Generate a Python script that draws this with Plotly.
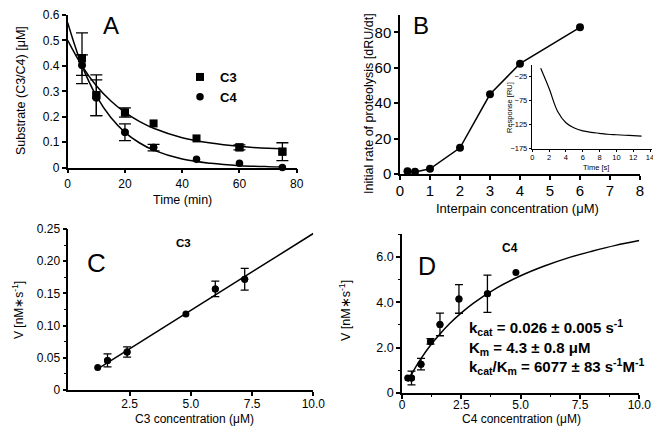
import plotly.graph_objects as go

# The page body keeps a default 8px margin, so the figure is placed 8px in.
OFF = 8
W, H = 661 - OFF, 433 - OFF
FONT = "Arial, Liberation Sans, Helvetica, sans-serif"

# ---------------- Panel A data ----------------
a_time = [5, 10, 20, 30, 45, 60, 75]
a_c3 = [0.43, 0.285, 0.217, 0.174, 0.115, 0.080, 0.063]
a_c3_err = [0.10, 0.08, 0.018, None, None, 0.010, 0.035]
a_c4 = [0.403, 0.275, 0.139, 0.079, 0.033, 0.017, 0.001]
a_c4_err = [0.04, 0.07, 0.033, 0.013, None, None, None]
# fitted curves
a_fit_t = [0, 5, 10, 15, 20, 25, 30, 40, 50, 60, 70, 75]
a_fit_c3 = [0.500, 0.400, 0.322, 0.263, 0.217, 0.182, 0.155, 0.118, 0.097, 0.084, 0.076, 0.074]
a_fit_c4 = [0.570, 0.401, 0.282, 0.198, 0.139, 0.098, 0.069, 0.034, 0.017, 0.008, 0.004, 0.003]

# ---------------- Panel B data ----------------
b_conc = [0.25, 0.5, 1, 2, 3, 4, 6]
b_rate = [1.5, 1.2, 2.9, 14.8, 45.0, 62.3, 82.8]
# inset trace
inset_t = [1, 2, 3, 4, 5, 6, 7, 8, 9, 10, 11, 12, 13]
inset_r = [-8, -50, -97, -121, -132, -138, -141, -143, -145, -146, -147, -148, -149]

# ---------------- Panel C data ----------------
c_conc = [1.2, 1.6, 2.4, 4.8, 6.0, 7.2]
c_v = [0.035, 0.046, 0.059, 0.118, 0.157, 0.172]
c_err = [None, 0.010, 0.008, None, 0.012, 0.017]
c_fit_x = [1.33, 10.0]
c_fit_y = [0.036, 0.243]

# ---------------- Panel D data ----------------
d_conc = [0.24, 0.4, 0.8, 1.2, 1.6, 2.4, 3.6, 4.8]
d_v = [0.66, 0.66, 1.27, 2.27, 3.02, 4.14, 4.37, 5.31]
d_err = [None, 0.30, 0.25, 0.12, 0.50, 0.63, 0.82, None]
d_fit_x = [0.25, 0.4, 0.8, 1.2, 1.6, 2.0, 2.5, 3, 4, 5, 6, 7, 8, 9, 10]
d_fit_y = [0.50, 0.82, 1.51, 2.10, 2.60, 3.05, 3.53, 3.95, 4.63, 5.16, 5.59, 5.95, 6.24, 6.50, 6.71]


def px(x, y):
    return (x - OFF) / W, 1 - (y - OFF) / H


def dom_x(a, b):
    return [(a - OFF) / W, (b - OFF) / W]


def dom_y(bottom, top):
    return [1 - (bottom - OFF) / H, 1 - (top - OFF) / H]


def sub_err(xs, ys, errs):
    xx = [x for x, e in zip(xs, errs) if e is not None]
    yy = [y for y, e in zip(ys, errs) if e is not None]
    ee = [e for e in errs if e is not None]
    return xx, yy, ee


fig = go.Figure()
LW = 1.5

# ---- A ----
fig.add_trace(go.Scatter(x=a_fit_t, y=a_fit_c3, mode="lines", line=dict(color="black", width=LW, shape="spline"),
                         xaxis="x", yaxis="y", showlegend=False))
fig.add_trace(go.Scatter(x=a_fit_t, y=a_fit_c4, mode="lines", line=dict(color="black", width=LW, shape="spline"),
                         xaxis="x", yaxis="y", showlegend=False))
for ys, errs, sym, size, name in [(a_c3, a_c3_err, "square", 8, "<b>C3</b>"), (a_c4, a_c4_err, "circle", 7.5, "<b>C4</b>")]:
    xx, yy, ee = sub_err(a_time, ys, errs)
    fig.add_trace(go.Scatter(x=xx, y=yy, mode="markers", marker=dict(symbol=sym, size=size, color="black"),
                             error_y=dict(type="data", array=ee, color="black", thickness=1.3, width=6),
                             xaxis="x", yaxis="y", showlegend=False, cliponaxis=False))
    fig.add_trace(go.Scatter(x=a_time, y=ys, mode="markers", marker=dict(symbol=sym, size=size, color="black"),
                             xaxis="x", yaxis="y", name=name, showlegend=True, cliponaxis=False))

# ---- B ----
fig.add_trace(go.Scatter(x=b_conc, y=b_rate, mode="lines+markers", line=dict(color="black", width=LW),
                         marker=dict(size=8, color="black"), xaxis="x2", yaxis="y2", showlegend=False, cliponaxis=False))
fig.add_trace(go.Scatter(x=inset_t, y=inset_r, mode="lines", line=dict(color="black", width=1.2, shape="spline"),
                         xaxis="x3", yaxis="y3", showlegend=False))

# ---- C ----
fig.add_trace(go.Scatter(x=c_fit_x, y=c_fit_y, mode="lines", line=dict(color="black", width=LW),
                         xaxis="x4", yaxis="y4", showlegend=False))
xx, yy, ee = sub_err(c_conc, c_v, c_err)
fig.add_trace(go.Scatter(x=xx, y=yy, mode="markers", marker=dict(size=7, color="black"),
                         error_y=dict(type="data", array=ee, color="black", thickness=1.3, width=4),
                         xaxis="x4", yaxis="y4", showlegend=False, cliponaxis=False))
fig.add_trace(go.Scatter(x=c_conc, y=c_v, mode="markers", marker=dict(size=7, color="black"),
                         xaxis="x4", yaxis="y4", showlegend=False, cliponaxis=False))

# ---- D ----
fig.add_trace(go.Scatter(x=d_fit_x, y=d_fit_y, mode="lines", line=dict(color="black", width=LW, shape="spline"),
                         xaxis="x5", yaxis="y5", showlegend=False))
xx, yy, ee = sub_err(d_conc, d_v, d_err)
fig.add_trace(go.Scatter(x=xx, y=yy, mode="markers", marker=dict(size=7, color="black"),
                         error_y=dict(type="data", array=ee, color="black", thickness=1.3, width=4),
                         xaxis="x5", yaxis="y5", showlegend=False, cliponaxis=False))
fig.add_trace(go.Scatter(x=d_conc, y=d_v, mode="markers", marker=dict(size=7, color="black"),
                         xaxis="x5", yaxis="y5", showlegend=False, cliponaxis=False))


def ax(domain, rng, anchor, size, **kw):
    d = dict(domain=domain, range=rng, anchor=anchor, showline=True, linecolor="black", linewidth=1.5,
             showgrid=False, zeroline=False, ticks="outside", ticklen=4, tickwidth=1.5, tickcolor="black",
             tickfont=dict(family=FONT, size=size, color="black"), fixedrange=True, automargin=False)
    d.update(kw)
    return d


fig.update_layout(
    width=W, height=H, autosize=False,
    margin=dict(l=0, r=0, t=0, b=0, pad=0, autoexpand=False),
    paper_bgcolor="white", plot_bgcolor="rgba(0,0,0,0)",
    font=dict(family=FONT, color="black"),
    xaxis=ax(dom_x(67.7, 296.7), [0, 80], "y", 12, tickvals=[0, 20, 40, 60, 80]),
    yaxis=ax(dom_y(167.7, 15), [0, 0.6], "x", 12, tickvals=[0, 0.1, 0.2, 0.3, 0.4, 0.5, 0.6]),
    xaxis2=ax(dom_x(400, 640), [0, 8], "y2", 15, tickvals=list(range(9)), ticklabelstandoff=-2),
    yaxis2=ax(dom_y(174, 14.6), [0, 90], "x2", 15, tickvals=[0, 20, 40, 60, 80]),
    xaxis3=ax(dom_x(532.3, 651.7), [0, 14.2], "y3", 7.5, tickvals=[0, 2, 4, 6, 8, 10, 12, 14],
              ticklen=2.5, tickwidth=1, linewidth=1, ticklabelstandoff=-1),
    yaxis3=ax(dom_y(148.7, 64.5), [-175, 0], "x3", 7.5, tickvals=[-25, -75, -125, -175],
              ticklen=2.5, tickwidth=1, linewidth=1),
    xaxis4=ax(dom_x(68.3, 313.3), [0, 10], "y4", 12, tickvals=[2.5, 5, 7.5, 10],
              ticktext=["2.5", "5.0", "7.5", "10.0"], ticklabelstandoff=-2),
    yaxis4=ax(dom_y(390, 229), [0, 0.25], "x4", 12, tickvals=[0, 0.05, 0.10, 0.15, 0.20, 0.25],
              ticktext=["0", "0.05", "0.10", "0.15", "0.20", "0.25"],
              minor=dict(ticks="outside", ticklen=2.5, tickwidth=1, tickcolor="black", tick0=0, dtick=0.025)),
    xaxis5=ax(dom_x(402, 639.3), [0, 10], "y5", 12, tickvals=[0, 2.5, 5, 7.5, 10],
              ticktext=["0", "2.5", "5.0", "7.5", "10.0"], ticklabelstandoff=-4,
              minor=dict(ticks="outside", ticklen=2.5, tickwidth=1, tickcolor="black", tick0=0, dtick=1.25)),
    yaxis5=ax(dom_y(393, 234), [0, 7], "x5", 12.5, tickvals=[0, 2, 4, 6],
              ticktext=["0", "2.0", "4.0", "6.0"],
              minor=dict(ticks="outside", ticklen=2.5, tickwidth=1, tickcolor="black", tick0=0, dtick=1)),
    legend=dict(x=px(180, 0)[0], y=px(0, 62)[1], xanchor="left", yanchor="top", bgcolor="rgba(0,0,0,0)",
                font=dict(family=FONT, size=13, color="black"), itemwidth=30, tracegroupgap=0),
)


def note(text, x, y, size, angle=0, bold=False, xanchor="center", align="center"):
    xp, yp = px(x, y)
    if bold:
        text = "<b>" + text + "</b>"
    fig.add_annotation(text=text, x=xp, y=yp, xref="paper", yref="paper", showarrow=False,
                       xanchor=xanchor, yanchor="middle", textangle=angle, align=align,
                       font=dict(family=FONT, size=size, color="black"))


# panel letters
note("A", 111.5, 25.5, 24)
note("B", 420.5, 25, 24)
note("C", 96, 263, 26)
note("D", 427, 266, 25)

# axis titles
note("Substrate (C3/C4) [μM]", 21, 91, 12.5, angle=-90)
note("Time (min)", 182, 200, 12.5)
note("Initial rate of proteolysis [dRU/dt]", 369, 104, 12.5, angle=-90)
note("Interpain concentration (μM)", 517.5, 208, 13)
note("Response [RU]", 510, 107, 7.5, angle=-90)
note("Time [s]", 596, 167.5, 7.5)
note("V [nM∗s<sup>-1</sup>]", 18, 310, 12, angle=-90)
note("C3 concentration (μM)", 194, 418.5, 12)
note("V [nM∗s<sup>-1</sup>]", 345, 311, 12.5, angle=-90)
note("C4 concentration (μM)", 521, 419, 12)

# panel labels
note("C3", 183, 243, 11.5, bold=True)
note("C4", 510, 248, 12, bold=True)

# kinetic constants
note("k<sub>cat</sub> = 0.026 ± 0.005 s<sup>-1</sup><br>"
     "K<sub>m</sub> = 4.3 ± 0.8 μM<br>"
     "k<sub>cat</sub>/K<sub>m</sub> = 6077 ± 83 s<sup>-1</sup>M<sup>-1</sup>",
     467, 347, 15, bold=True, xanchor="left", align="left")

fig.write_html("out.html")
